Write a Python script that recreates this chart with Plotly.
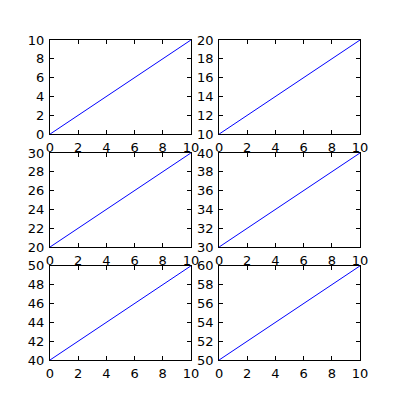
import plotly.graph_objects as go

x_values = [0, 10]
y_row1_left = [0, 10]
y_row1_right = [10, 20]
y_row2_left = [20, 30]
y_row2_right = [30, 40]
y_row3_left = [40, 50]
y_row3_right = [50, 60]
x_ticks = [0, 2, 4, 6, 8, 10]

series = [y_row1_left, y_row1_right, y_row2_left, y_row2_right, y_row3_left, y_row3_right]

col_domains = [[0.125, 0.4773], [0.5477, 0.9]]
row_domains = [[0.6647, 0.9], [0.3824, 0.6176], [0.1, 0.3353]]

fig = go.Figure()
layout = dict(
    template="none",
    width=400, height=400,
    margin=dict(l=0, r=0, t=0, b=0, pad=0),
    paper_bgcolor="white", plot_bgcolor="white",
    showlegend=False,
    font=dict(family="DejaVu Sans", size=13, color="black"),
)

for i, ys in enumerate(series):
    r, c = divmod(i, 2)
    n = i + 1
    suffix = "" if n == 1 else str(n)
    fig.add_trace(go.Scatter(x=x_values, y=ys, mode="lines",
                             line=dict(color="#0000ff", width=1),
                             xaxis="x" + suffix, yaxis="y" + suffix,
                             hoverinfo="skip"))
    axis_common = dict(showline=True, linecolor="black", linewidth=1,
                       mirror="ticks", ticks="inside", ticklen=4,
                       tickcolor="black", tickwidth=1, showgrid=False,
                       zeroline=False, automargin=False,
                       tickfont=dict(family="DejaVu Sans", size=13, color="black"))
    layout["xaxis" + suffix] = dict(domain=col_domains[c], range=[x_values[0], x_values[-1]],
                                    anchor="y" + suffix, tickvals=x_ticks,
                                    ticklabelstandoff=1, **axis_common)
    lo, hi = ys[0], ys[-1]
    layout["yaxis" + suffix] = dict(domain=row_domains[r], range=[lo, hi],
                                    anchor="x" + suffix, ticklabelstandoff=2,
                                    tickvals=list(range(lo, hi + 1, 2)), **axis_common)

fig.update_layout(**layout)
fig.write_html("out.html", config={"displayModeBar": False},
               post_script="document.body.style.margin='0';document.body.style.padding='0';")
